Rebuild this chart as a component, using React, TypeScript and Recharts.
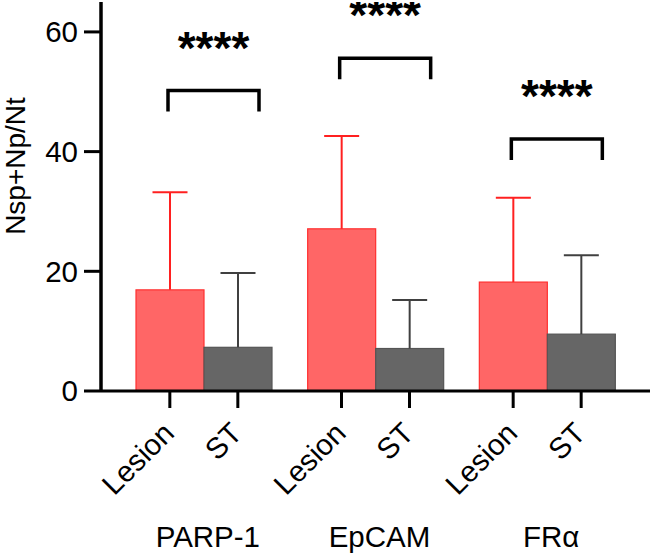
import React from 'react';
import { BarChart, Bar, XAxis, YAxis } from 'recharts';

const groups = ['PARP-1', 'EpCAM', 'FRα'];
const barLabels = ['Lesion', 'ST'];
const lesionMean = [16.9, 27.1, 18.2];
const lesionSD = [16.3, 15.5, 14.1];
const stMean = [7.3, 7.1, 9.5];
const stSD = [12.4, 8.1, 13.2];
const bracketTop = [50.2, 55.6, 42.1];
const sigLabels = ['****', '****', '****'];
const yTicks = [0, 20, 40, 60];

const data = groups.map((g, i) => ({
  group: g,
  lesion: lesionMean[i],
  lesionSD: lesionSD[i],
  st: stMean[i],
  stSD: stSD[i],
  bracket: bracketTop[i],
  sig: sigLabels[i],
}));

const FONT = '"Liberation Sans", Arial, Helvetica, sans-serif';
const BAR = 68;
const LEG_UNITS = 3.5;
const FS = 29.5;

function makeBarShape(key: string, sdKey: string, fill: string, stroke: string, errColor: string) {
  return (p: any) => {
    const { x, y, width, height, payload } = p;
    const v = payload[key];
    const sd = payload[sdKey];
    const k = v ? height / v : 0;
    const cx = x + width / 2;
    const yTop = y - sd * k;
    return (
      <g>
        <rect x={x} y={y} width={width} height={height} fill={fill} stroke={stroke} strokeWidth={1.2} />
        <line x1={cx} y1={y} x2={cx} y2={yTop} stroke={errColor} strokeWidth={2} />
        <line x1={cx - 17.5} y1={yTop} x2={cx + 17.5} y2={yTop} stroke={errColor} strokeWidth={2} />
      </g>
    );
  };
}

const BracketShape = (p: any) => {
  const { x, y, width, height, payload } = p;
  const k = payload.bracket ? height / payload.bracket : 0;
  const leg = LEG_UNITS * k;
  const shift = 10;
  const x0 = x + shift;
  const x1 = x + width + shift;
  return (
    <g>
      <path
        d={`M${x0},${y + leg} L${x0},${y} L${x1},${y} L${x1},${y + leg}`}
        fill="none"
        stroke="#000"
        strokeWidth={3.5}
      />
      <text
        x={(x0 + x1) / 2}
        y={y - 27}
        textAnchor="middle"
        fontFamily={FONT}
        fontWeight="bold"
        fontSize={46}
        fill="#000"
      >
        {payload.sig}
      </text>
    </g>
  );
};

const GroupTick = (p: any) => {
  const { x, y, payload } = p;
  const half = BAR / 2;
  return (
    <g>
      {[-half, half].map((dx, i) => {
        const tx = x + dx + 6;
        const ty = y + 44;
        return (
          <g key={i}>
            <line x1={x + dx} y1={y} x2={x + dx} y2={y + 17} stroke="#000" strokeWidth={3} />
            <text
              x={tx}
              y={ty}
              transform={`rotate(-45 ${tx} ${ty})`}
              textAnchor="end"
              fontSize={FS}
              fontFamily={FONT}
              fill="#000"
            >
              {barLabels[i]}
            </text>
          </g>
        );
      })}
      <text x={x + 4} y={y + 156} textAnchor="middle" fontSize={FS} fontFamily={FONT} fill="#000">
        {payload.value}
      </text>
    </g>
  );
};

const YLabel = (p: any) => {
  const vb = p.viewBox || {};
  const bx = (vb.x || 0) + 25;
  const cy = 166;
  return (
    <text
      x={bx}
      y={cy}
      transform={`rotate(-90 ${bx} ${cy})`}
      textAnchor="middle"
      fontSize={28}
      fontFamily={FONT}
      fill="#000"
    >
      Nsp+Np/Nt
    </text>
  );
};

export default function App() {
  return (
    <div style={{ position: 'absolute', left: 0, top: 0, width: 650, height: 555, background: '#fff' }}>
      <BarChart
        width={650}
        height={555}
        data={data}
        margin={{ top: 2, right: 0, bottom: 0, left: 0 }}
        barGap={0}
      >
        <XAxis
          dataKey="group"
          height={164}
          padding={{ left: 17, right: 17 }}
          axisLine={{ stroke: '#000', strokeWidth: 3 }}
          tickLine={false}
          tickSize={0}
          tickMargin={0}
          tick={<GroupTick />}
          interval={0}
        />
        <XAxis xAxisId="sig" dataKey="group" hide padding={{ left: 17, right: 17 }} />
        <YAxis
          width={101}
          domain={[0, 65]}
          ticks={yTicks}
          allowDataOverflow
          axisLine={{ stroke: '#000', strokeWidth: 3.5 }}
          tickLine={{ stroke: '#000', strokeWidth: 3 }}
          tickSize={17}
          tickMargin={6}
          tick={{ fontSize: FS, fontFamily: FONT, fill: '#000' }}
          label={<YLabel />}
        />
        <Bar
          dataKey="lesion"
          barSize={BAR}
          fill="#FF6666"
          isAnimationActive={false}
          shape={makeBarShape('lesion', 'lesionSD', '#FF6666', '#FF3030', '#FF2020')}
        />
        <Bar
          dataKey="st"
          barSize={BAR}
          fill="#666666"
          isAnimationActive={false}
          shape={makeBarShape('st', 'stSD', '#666666', '#555555', '#404040')}
        />
        <Bar
          xAxisId="sig"
          dataKey="bracket"
          barSize={91}
          fill="none"
          isAnimationActive={false}
          shape={BracketShape}
        />
      </BarChart>
    </div>
  );
}
